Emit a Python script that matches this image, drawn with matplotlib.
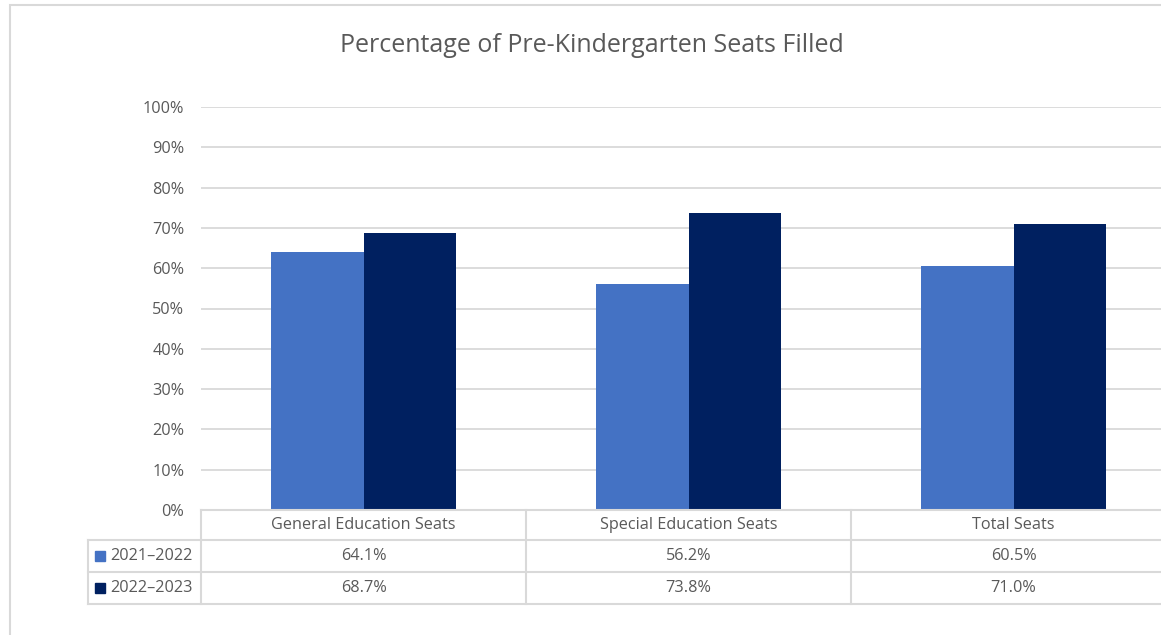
import matplotlib.pyplot as plt
from matplotlib.transforms import blended_transform_factory
from matplotlib.patches import Rectangle
import numpy as np

plt.rcParams['font.family'] = ['Open Sans', 'DejaVu Sans']

# data
categories = ['General Education Seats', 'Special Education Seats', 'Total Seats']
years = ['2021\u20132022', '2022\u20132023']
filled_2122 = [64.1, 56.2, 60.5]
filled_2223 = [68.7, 73.8, 71.0]
colors = ['#4472C4', '#002060']
grid_c = '#d9d9d9'
text_c = '#595959'
fs = 11.7

W, H = 1161, 635
fig = plt.figure(figsize=(W / 100, H / 100), dpi=100)

def fx(px):
    return px / W

def fy(py):
    return 1 - py / H

# plot area in pixels: x 201..1176, y 107..510
ax = fig.add_axes([fx(201), fy(510), fx(1176 - 201), (510 - 107) / H])
x = np.arange(len(categories))
bw = 1 / 3.5
ax.bar(x - bw / 2, filled_2122, bw, color=colors[0], zorder=2)
ax.bar(x + bw / 2, filled_2223, bw, color=colors[1], zorder=2)
ax.set_xlim(-0.5, 2.5)
ax.set_ylim(0, 100)
ax.set_yticks(range(0, 101, 10))
ax.set_yticklabels([f'{v}%' for v in range(0, 101, 10)])
ax.set_xticks([])
ax.grid(axis='y', color=grid_c, linewidth=1.3, zorder=0)
for s in ax.spines.values():
    s.set_visible(False)
ax.tick_params(axis='y', length=0, pad=12, labelsize=fs, labelcolor=text_c)

# chart border
fig.patches.append(Rectangle((fx(10), fy(640)), fx(1200), (640 - 5) / H,
                             transform=fig.transFigure, fill=False,
                             edgecolor=grid_c, linewidth=1.5))

fig.text(fx(592), fy(45), 'Percentage of Pre-Kindergarten Seats Filled',
         ha='center', va='center', fontsize=18, color=text_c)

# data table under the axis
tr = blended_transform_factory(ax.transData, fig.transFigure)
lk = dict(color=grid_c, linewidth=1.5, transform=fig.transFigure, clip_on=False)
fig.add_artist(plt.Line2D([fx(201), 1], [fy(510), fy(510)], **lk))
for yy in (540, 572, 604):
    fig.add_artist(plt.Line2D([fx(88), 1], [fy(yy), fy(yy)], **lk))
for xx in (201, 526, 851):
    fig.add_artist(plt.Line2D([fx(xx), fx(xx)], [fy(510), fy(604)], **lk))
fig.add_artist(plt.Line2D([fx(88), fx(88)], [fy(540), fy(604)], **lk))

for i, c in enumerate(categories):
    fig.text(x[i], fy(525), c, transform=tr, ha='center', va='center',
             fontsize=fs, color=text_c)
rows = [filled_2122, filled_2223]
for r, (vals, yy) in enumerate(zip(rows, (556, 588))):
    fig.patches.append(Rectangle((fx(95), fy(yy + 5)), fx(10), 10 / H,
                                 transform=fig.transFigure, color=colors[r]))
    fig.text(fx(110), fy(yy), years[r], ha='left', va='center',
             fontsize=fs, color=text_c)
    for i, v in enumerate(vals):
        fig.text(x[i], fy(yy), f'{v:.1f}%', transform=tr, ha='center',
                 va='center', fontsize=fs, color=text_c)

plt.savefig('out.png', dpi=100)
